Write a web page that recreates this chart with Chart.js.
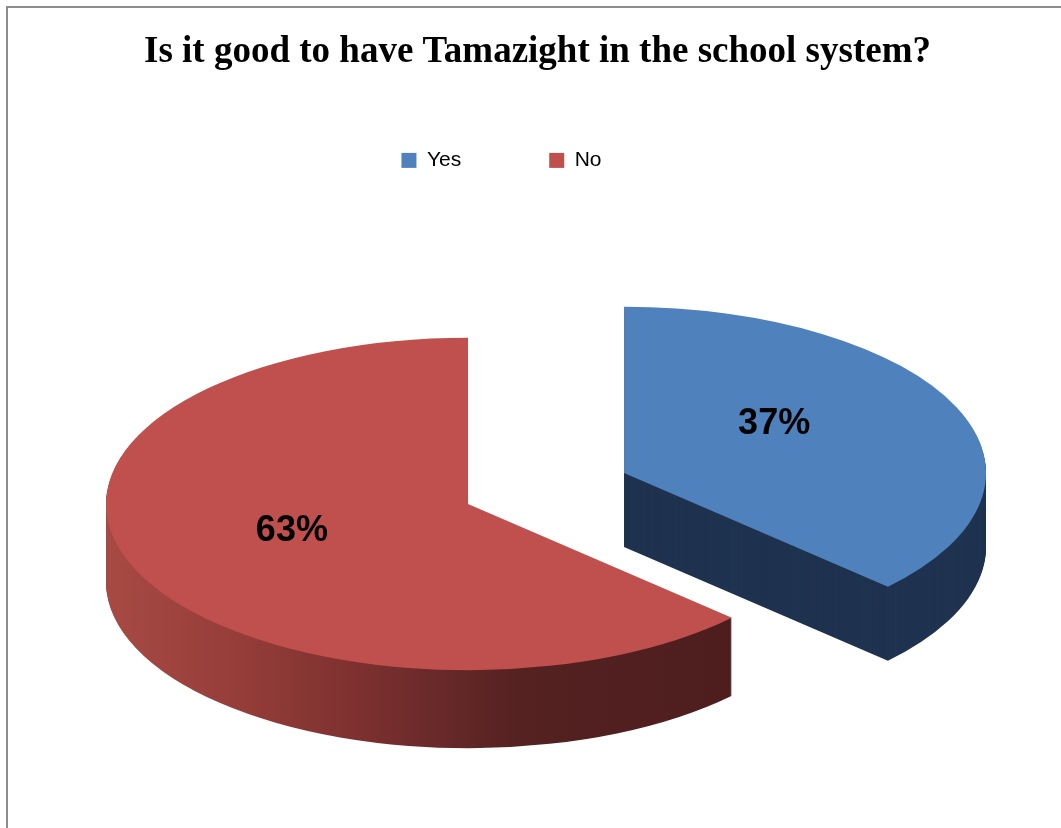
<!DOCTYPE html>
<html>
<head>
<meta charset="utf-8">
<script src="https://cdn.jsdelivr.net/npm/chart.js@4.4.1/dist/chart.umd.min.js"></script>
<style>
  body { margin: 0; background: #fff; }
  #wrap { position: relative; width: 1061px; height: 828px; overflow: hidden; }
  #grafico { position: absolute; left: 0; top: 0; }
  #moldura { position: absolute; left: 6px; top: 6px; width: 1100px; height: 900px;
    border-left: 2px solid #8c8c8c; border-top: 2px solid #8c8c8c; }
</style>
</head>
<body>
<div id="wrap">
  <canvas id="grafico" width="1061" height="828"></canvas>
  <div id="moldura"></div>
</div>
<script>
var titulo = "Is it good to have Tamazight in the school system?";
var categorias = ["Yes", "No"];
var valores = [37, 63];
var coresTopo = ["#4f81bd", "#c0504d"];

// posiciona o arco na tela: achata em y e afasta a fatia destacada
function posiciona(ctx, arc, i, o) {
  const meio = (arc.startAngle + arc.endAngle) / 2;
  const ex = o.explode[i] || 0;
  ctx.translate(o.x + Math.cos(meio) * ex, o.y + Math.sin(meio) * ex * o.squash);
  ctx.scale(1, o.squash);
  ctx.translate(-arc.x, -arc.y);
}

function corLado(ctx, arc, i, o) {
  const lado = o.lados[i];
  if (typeof lado === "string") return lado;
  const meio = (arc.startAngle + arc.endAngle) / 2;
  const dx = o.x + Math.cos(meio) * (o.explode[i] || 0) - arc.x;
  const a = lado[0][0], b = lado[lado.length - 1][0];
  const g = ctx.createLinearGradient(a - dx, 0, b - dx, 0);
  lado.forEach((s) => g.addColorStop((s[0] - a) / (b - a), s[1]));
  return g;
}

function desenhaArco(ctx, arc, cor) {
  const falso = Object.create(arc);
  falso.options = Object.assign({}, arc.options, { backgroundColor: cor, borderColor: cor, borderWidth: 0 });
  arc.draw.call(falso, ctx);
}

const pie3d = {
  id: "pie3d",
  beforeDatasetsDraw(chart, args, o) {
    const ctx = chart.ctx;
    const arcs = chart.getDatasetMeta(0).data;
    // laterais
    arcs.forEach((arc, i) => {
      const cor = corLado(ctx, arc, i, o);
      for (let j = o.depth[i]; j >= 1; j--) {
        ctx.save();
        ctx.translate(0, j);
        posiciona(ctx, arc, i, o);
        desenhaArco(ctx, arc, cor);
        ctx.restore();
      }
    });
    // topo
    arcs.forEach((arc, i) => {
      ctx.save();
      posiciona(ctx, arc, i, o);
      arc.draw(ctx);
      ctx.restore();
    });
    return false;
  },
  afterDraw(chart, args, o) {
    const ctx = chart.ctx;
    const arcs = chart.getDatasetMeta(0).data;
    const total = valores.reduce((a, b) => a + b, 0);
    ctx.save();
    ctx.font = "bold 36px 'Liberation Sans'";
    ctx.fillStyle = "#000";
    ctx.textAlign = "center";
    ctx.textBaseline = "middle";
    arcs.forEach((arc, i) => {
      const meio = (arc.startAngle + arc.endAngle) / 2;
      const r = (o.explode[i] || 0) + arc.outerRadius * o.labelPos;
      const x = o.x + Math.cos(meio) * r + o.nudge[i][0];
      const y = o.y + Math.sin(meio) * r * o.squash + o.nudge[i][1];
      ctx.fillText(Math.round((valores[i] / total) * 100) + "%", x, y);
    });
    ctx.restore();
  },
};

const deslocaLegenda = {
  id: "deslocaLegenda",
  afterLayout(chart) {
    chart.legend.left -= 36;
    chart.legend.right -= 36;
  },
};

new Chart(document.getElementById("grafico"), {
  type: "pie",
  data: {
    labels: categorias,
    datasets: [
      {
        data: valores,
        backgroundColor: coresTopo,
        borderWidth: 0,
        radius: 362,
      },
    ],
  },
  options: {
    responsive: false,
    animation: false,
    events: [],
    layout: { padding: { left: 14 } },
    plugins: {
      title: {
        display: true,
        text: titulo,
        color: "#000",
        font: { family: "'Liberation Serif'", size: 37, weight: "bold", lineHeight: 1.2 },
        padding: { top: 30, bottom: -12.5 },
      },
      legend: {
        position: "top",
        labels: {
          color: "#000",
          boxWidth: 15,
          boxHeight: 15,
          padding: 88,
          font: { family: "'Liberation Sans'", size: 21 },
        },
      },
      tooltip: { enabled: false },
      pie3d: {
        x: 468,
        y: 504,
        squash: 0.459,
        depth: [74, 78],
        explode: [170, 0],
        labelPos: 0.5,
        nudge: [[-16, -16], [-10, -6]],
        lados: [
          "#1f3350",
          [[103, "#a84a44"], [230, "#973e3a"], [363, "#7c302f"], [430, "#6a2a2a"], [520, "#552121"], [742, "#4d1d1e"]],
        ],
      },
    },
  },
  plugins: [pie3d, deslocaLegenda],
});
</script>
</body>
</html>
